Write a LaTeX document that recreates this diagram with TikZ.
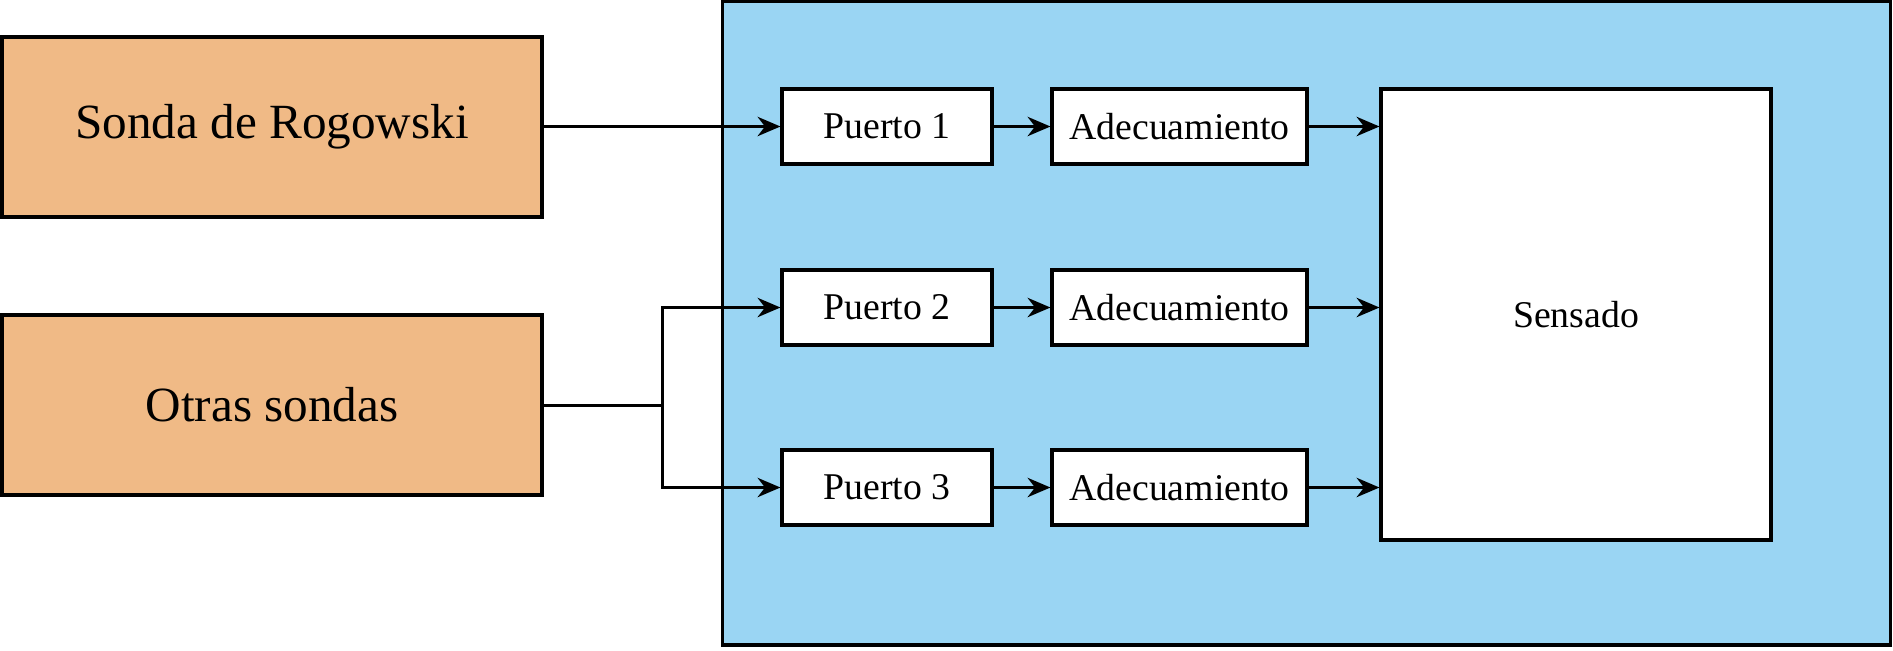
\documentclass[tikz,border=0pt]{standalone}
\usepackage{fontspec}
\setmainfont{Liberation Serif}
\usepackage{xcolor}
\usepackage{tikz}
\usetikzlibrary{arrows.meta, positioning, calc}
\definecolor{sondafill}{RGB}{240,186,134}
\definecolor{placafill}{RGB}{154,213,243}
\tikzset{
    sbox/.style={rectangle, draw=black, line width=1.8pt,
                 fill=sondafill, minimum width=10.8cm,
                 minimum height=3.6cm, inner sep=0pt,
                 font=\fontsize{28}{32}\selectfont},
    pbox/.style={rectangle, draw=black, line width=1.8pt,
                 fill=white, minimum width=4.2cm,
                 minimum height=1.5cm, inner sep=0pt,
                 font=\fontsize{21.5}{26}\selectfont},
    abox/.style={rectangle, draw=black, line width=1.8pt,
                 fill=white, minimum width=5.1cm,
                 minimum height=1.5cm, inner sep=0pt,
                 font=\fontsize{21.5}{26}\selectfont},
    arr/.style={-{Stealth[length=13pt, width=11pt]}, line width=1.7pt, draw=black}
}

\begin{document}
\begin{tikzpicture}[x=0.02cm, y=-0.02cm]
\useasboundingbox (0,0) rectangle (1893,650);
% ── Placa ─────────────────────────────────────────────────────────────
\node[rectangle, draw=black, line width=1.8pt, fill=placafill,
      minimum width=23.38cm, minimum height=12.88cm] at (1306.5,323) (placa) {};

% ── Sondas ────────────────────────────────────────────────────────────
\node[sbox] at (272,127) (rog)   {Sonda de Rogowski};
\node[sbox] at (272,405) (otras) {Otras sondas};

% ── Puertos ───────────────────────────────────────────────────────────
\node[pbox] at (887,126.5) (p1) {Puerto 1};
\node[pbox] at (887,307.5) (p2) {Puerto 2};
\node[pbox] at (887,487.5) (p3) {Puerto 3};

% ── Adecuamiento ──────────────────────────────────────────────────────
\node[abox] at (1179.5,126.5) (a1) {Adecuamiento};
\node[abox] at (1179.5,307.5) (a2) {Adecuamiento};
\node[abox] at (1179.5,487.5) (a3) {Adecuamiento};

% ── Sensado ───────────────────────────────────────────────────────────
\node[rectangle, draw=black, line width=1.8pt, fill=white,
      minimum width=7.8cm, minimum height=9.02cm,
      font=\fontsize{21.5}{26}\selectfont] at (1576,314.5) (sens) {Sensado};

% ── Arrows ────────────────────────────────────────────────────────────
\coordinate (rama) at (662,405);
\draw[arr] (rog.east |- p1.west) -- (p1.west);
\draw[line width=1.7pt] (otras.east) -- (rama);
\draw[arr] (rama) |- (p2.west);
\draw[arr] (rama) |- (p3.west);

\draw[arr] (p1) -- (a1);
\draw[arr] (p2) -- (a2);
\draw[arr] (p3) -- (a3);

\draw[arr] (a1.east) -- (sens.west |- a1.east);
\draw[arr] (a2.east) -- (sens.west |- a2.east);
\draw[arr] (a3.east) -- (sens.west |- a3.east);
\end{tikzpicture}
\end{document}
